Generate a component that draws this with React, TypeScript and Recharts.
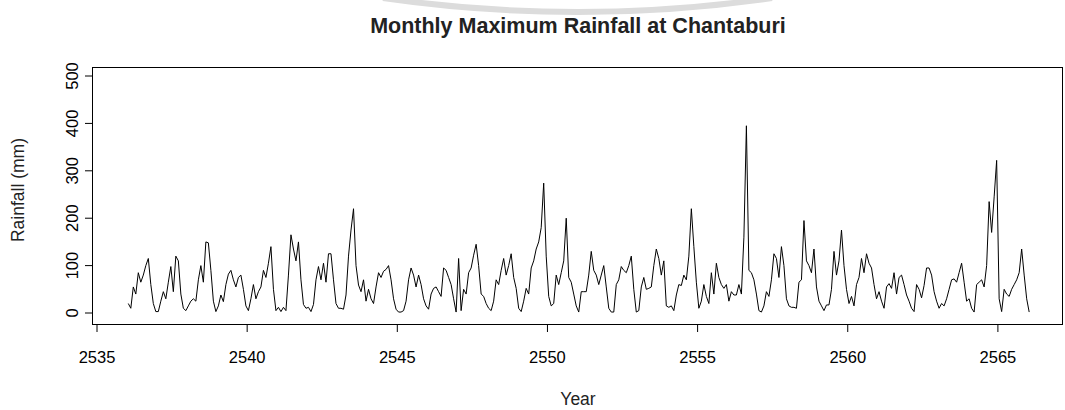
import React from 'react';
import { LineChart, Line, XAxis, YAxis } from 'recharts';

// Monthly maximum rainfall (mm), 5-year blocks
const rain2536to2540 = [
  20, 10, 55, 40, 85, 65, 80, 100, 115, 60, 20, 3,
  3, 25, 45, 30, 65, 98, 45, 120, 110, 40, 10, 5,
  15, 25, 30, 25, 70, 100, 65, 150, 148, 90, 25, 3,
  15, 38, 24, 60, 82, 90, 70, 55, 75, 80, 50, 15,
  5, 30, 60, 30, 45, 55, 90, 75, 105, 140, 50, 5,
];
const rain2541to2545 = [
  12, 3, 12, 5, 80, 165, 135, 110, 150, 70, 18, 10,
  12, 3, 18, 70, 98, 70, 105, 65, 125, 125, 70, 20,
  10, 10, 8, 38, 120, 175, 220, 100, 59, 45, 70, 25,
  50, 30, 20, 55, 85, 75, 88, 92, 100, 70, 30, 8,
  2, 2, 5, 25, 70, 95, 80, 55, 80, 60, 30, 15,
];
const rain2546to2550 = [
  8, 40, 52, 55, 45, 35, 95, 90, 75, 60, 30, 2,
  115, 5, 50, 40, 85, 95, 122, 145, 100, 40, 35, 20,
  10, 5, 25, 70, 60, 90, 115, 80, 100, 125, 75, 52,
  10, 3, 25, 52, 40, 95, 110, 135, 150, 180, 274, 120,
  35, 15, 20, 80, 60, 85, 110, 200, 75, 65, 40, 15,
];
const rain2551to2555 = [
  2, 45, 45, 45, 80, 130, 90, 80, 60, 80, 100, 55,
  10, 2, 2, 60, 70, 98, 90, 85, 100, 120, 50, 2,
  5, 55, 75, 50, 52, 55, 100, 135, 115, 80, 110, 15,
  12, 15, 5, 38, 60, 58, 80, 70, 120, 220, 140, 65,
  10, 25, 60, 35, 20, 85, 40, 105, 75, 60, 52, 60,
];
const rain2556to2560 = [
  25, 45, 38, 38, 60, 40, 160, 395, 90, 85, 70, 40,
  5, 2, 15, 45, 35, 70, 125, 115, 75, 140, 100, 30,
  15, 12, 12, 10, 65, 70, 195, 110, 100, 85, 135, 55,
  25, 15, 5, 17, 17, 50, 130, 80, 110, 175, 100, 50,
  20, 35, 15, 60, 75, 115, 85, 125, 105, 95, 60, 30,
];
const rain2561to2566 = [
  45, 25, 10, 55, 62, 52, 85, 40, 75, 80, 60, 38,
  25, 10, 3, 60, 50, 32, 58, 95, 95, 80, 45, 25,
  10, 20, 15, 30, 50, 70, 72, 65, 85, 105, 65, 25,
  30, 10, 2, 60, 65, 70, 55, 100, 235, 170, 245, 322,
  30, 3, 50, 40, 35, 50, 60, 70, 85, 135, 80, 30, 2,
];

const xTicks = [2535, 2540, 2545, 2550, 2555, 2560, 2565];
const yTicks = [0, 100, 200, 300, 400, 500];

const rainfall = [
  ...rain2536to2540,
  ...rain2541to2545,
  ...rain2546to2550,
  ...rain2551to2555,
  ...rain2556to2560,
  ...rain2561to2566,
];

const data = rainfall.map((v, i) => ({ t: 2536 + (i + 0.5) / 12, rain: v }));

const FONT = '"Liberation Sans", Arial, sans-serif';

const XTick = (props: any) => {
  const { x, y, payload } = props;
  return (
    <text x={x} y={y} dy="0.71em" textAnchor="middle" fontSize={16.5} fill="#000" fontFamily={FONT}>
      {payload.value}
    </text>
  );
};

const YTick = (props: any) => {
  const { x, y, payload } = props;
  const bx = x - 5;
  return (
    <text x={bx} y={y} textAnchor="middle" fontSize={16.5} fill="#000" fontFamily={FONT} transform={`rotate(-90, ${bx}, ${y})`}>
      {payload.value}
    </text>
  );
};

export default function App() {
  return (
    <div style={{ position: 'absolute', left: 0, top: 0, width: 1065, height: 410, background: '#fff', fontFamily: FONT }}>
      {/* faint watermark arc at the top edge */}
      <svg width={1065} height={30} style={{ position: 'absolute', left: 0, top: 0 }}>
        <path d="M 383 -2 Q 578 26 772 -2" fill="none" stroke="#dcdcdc" strokeWidth={6} />
      </svg>

      <div style={{ position: 'absolute', left: 0, width: 1156, top: 14, textAlign: 'center', fontSize: 21.5, fontWeight: 'bold', color: '#222' }}>
        Monthly Maximum Rainfall at Chantaburi
      </div>

      <LineChart width={1065} height={410} data={data} margin={{ top: 67, right: 2, left: 0, bottom: 0 }}>
        <XAxis
          dataKey="t"
          type="number"
          domain={[2534.833, 2567.168]}
          allowDataOverflow
          ticks={xTicks}
          height={85}
          axisLine={false}
          tickLine={{ stroke: '#000' }}
          tickSize={7}
          tickMargin={19}
          tick={<XTick />}
          interval={0}
        />
        <YAxis
          type="number"
          domain={[-25.3, 519]}
          allowDataOverflow
          ticks={yTicks}
          width={92}
          axisLine={false}
          tickLine={{ stroke: '#000' }}
          tickSize={7}
          tickMargin={2}
          tick={<YTick />}
          interval={0}
        />
        <Line type="linear" dataKey="rain" stroke="#000" strokeWidth={1} dot={false} isAnimationActive={false} />
      </LineChart>

      <div style={{ position: 'absolute', left: 92, top: 67, width: 971, height: 258, border: '1px solid #000', boxSizing: 'border-box', pointerEvents: 'none' }} />

      <div style={{ position: 'absolute', left: 478, width: 200, top: 389, textAlign: 'center', fontSize: 17.5, color: '#222' }}>Year</div>
      <div style={{ position: 'absolute', left: 18 - 100, top: 190 - 11, width: 200, height: 22, lineHeight: '22px', textAlign: 'center', fontSize: 17.5, color: '#222', transform: 'rotate(-90deg)' }}>
        Rainfall (mm)
      </div>
    </div>
  );
}
